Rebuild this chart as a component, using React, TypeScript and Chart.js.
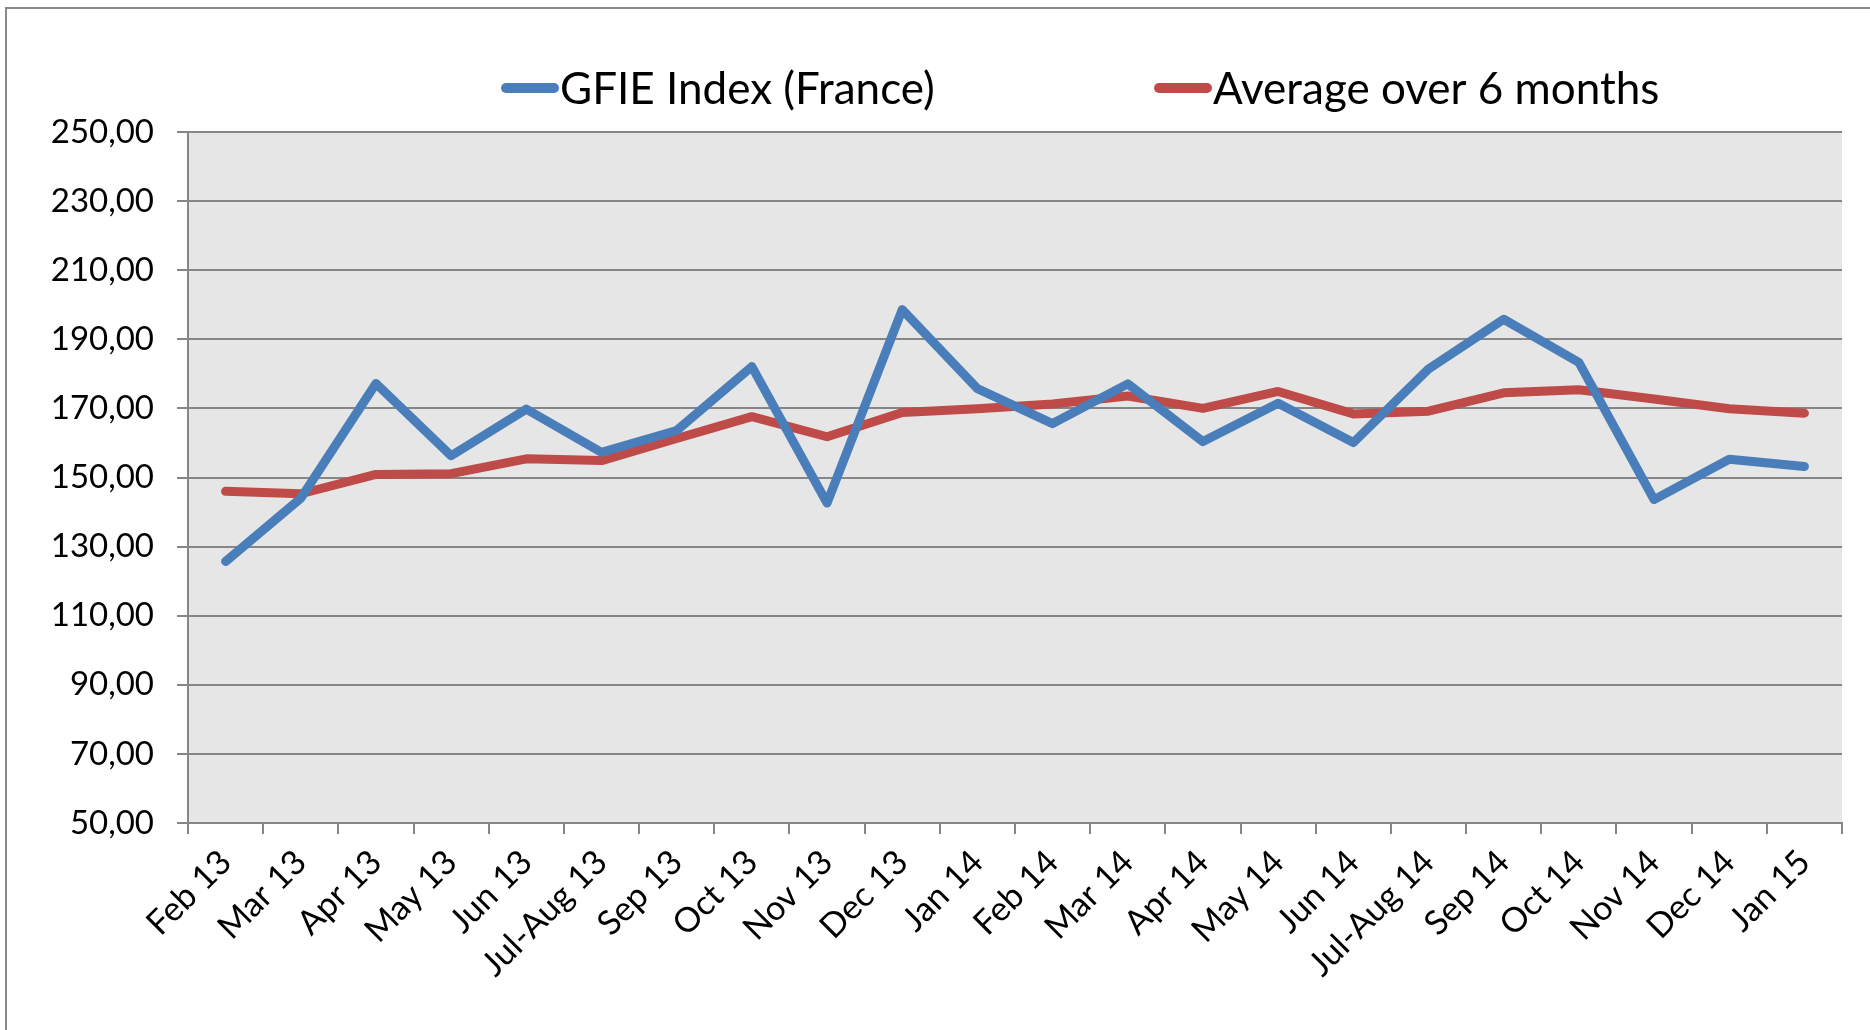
import { useEffect, useRef } from 'react';
import { Chart, registerables } from 'chart.js';

Chart.register(...registerables);

const categories = ['Feb 13', 'Mar 13', 'Apr 13', 'May 13', 'Jun 13', 'Jul-Aug 13', 'Sep 13', 'Oct 13', 'Nov 13', 'Dec 13', 'Jan 14', 'Feb 14', 'Mar 14', 'Apr 14', 'May 14', 'Jun 14', 'Jul-Aug 14', 'Sep 14', 'Oct 14', 'Nov 14', 'Dec 14', 'Jan 15'];
const gfieIndex = [125.7, 144.0, 177.2, 156.3, 169.8, 157.3, 163.6, 182.1, 142.6, 198.6, 175.7, 165.6, 177.1, 160.4, 171.5, 160.1, 181.4, 195.8, 183.3, 143.6, 155.3, 153.2];
const average6m = [146.0, 145.3, 150.9, 151.1, 155.4, 154.9, 161.3, 167.6, 161.8, 168.8, 169.9, 171.3, 173.6, 170.0, 174.9, 168.4, 169.2, 174.5, 175.4, 172.7, 169.9, 168.6];
const seriesNames = ['GFIE Index (France)', 'Average over 6 months'];
const yMin = 50;
const yMax = 250;
const yStep = 20;

const FONT = 'Lato, "Noto Sans", sans-serif';
const GRID = '#868686';
const LEGEND_X = [501, 1154];

const framePlugin = {
  id: 'frameAndBg',
  beforeDraw(chart: any) {
    const { ctx, chartArea } = chart;
    ctx.save();
    ctx.fillStyle = '#ffffff';
    ctx.fillRect(0, 0, chart.width, chart.height);
    ctx.strokeStyle = '#898989';
    ctx.lineWidth = 2;
    ctx.beginPath();
    ctx.moveTo(6, chart.height + 5);
    ctx.lineTo(6, 8);
    ctx.lineTo(chart.width + 5, 8);
    ctx.stroke();
    ctx.fillStyle = '#e6e6e6';
    ctx.fillRect(chartArea.left, chartArea.top, chartArea.right - chartArea.left, chartArea.bottom - chartArea.top);
    ctx.restore();
  },
};

const legendPlugin = {
  id: 'customLegend',
  afterDraw(chart: any) {
    const ctx = chart.ctx;
    chart.data.datasets.forEach((ds: any, i: number) => {
      const x0 = LEGEND_X[i];
      ctx.save();
      ctx.strokeStyle = ds.borderColor;
      ctx.lineWidth = 10;
      ctx.lineCap = 'round';
      ctx.beginPath();
      ctx.moveTo(x0 + 5, 88);
      ctx.lineTo(x0 + 53, 88);
      ctx.stroke();
      ctx.fillStyle = '#000000';
      ctx.font = `44px ${FONT}`;
      ctx.textBaseline = 'alphabetic';
      ctx.textAlign = 'left';
      ctx.fillText(ds.label, x0 + 59, 104);
      ctx.restore();
    });
  },
};

export default function App() {
  const ref = useRef<HTMLCanvasElement>(null);

  useEffect(() => {
    document.body.style.margin = '0';
    const chart = new Chart(ref.current as HTMLCanvasElement, {
      type: 'line',
      data: {
        labels: categories,
        datasets: [
          {
            label: seriesNames[0],
            data: gfieIndex,
            borderColor: '#4a7ebb',
            backgroundColor: '#4a7ebb',
            borderWidth: 9,
            pointRadius: 0,
            pointHoverRadius: 0,
            tension: 0,
            borderCapStyle: 'round',
            borderJoinStyle: 'round',
            fill: false,
          },
          {
            label: seriesNames[1],
            data: average6m,
            borderColor: '#be4b48',
            backgroundColor: '#be4b48',
            borderWidth: 9,
            pointRadius: 0,
            pointHoverRadius: 0,
            tension: 0,
            borderCapStyle: 'round',
            borderJoinStyle: 'round',
            fill: false,
          },
        ],
      },
      options: {
        responsive: false,
        animation: false,
        devicePixelRatio: 1,
        layout: { padding: { top: 132, right: 28, left: 0, bottom: 0 } },
        plugins: {
          legend: { display: false },
          tooltip: { enabled: false },
          title: { display: false },
        },
        scales: {
          x: {
            type: 'category',
            offset: true,
            grid: {
              offset: true,
              drawOnChartArea: false,
              drawTicks: true,
              tickLength: 11,
              color: GRID,
              lineWidth: 2,
            },
            border: { display: true, color: GRID, width: 2 },
            ticks: {
              autoSkip: false,
              minRotation: 45,
              maxRotation: 45,
              color: '#000000',
              padding: 8,
              font: { family: FONT, size: 34 },
            },
            afterFit: (scale: any) => {
              scale.height = 207;
            },
          },
          y: {
            min: yMin,
            max: yMax,
            grid: {
              drawTicks: true,
              tickLength: 11,
              color: GRID,
              lineWidth: 2,
            },
            border: { display: true, color: GRID, width: 2 },
            ticks: {
              stepSize: yStep,
              color: '#000000',
              padding: 23,
              font: { family: FONT, size: 33 },
              callback: (v: any) => Number(v).toFixed(2).replace('.', ','),
            },
            afterFit: (scale: any) => {
              scale.width = 188;
            },
          },
        },
      },
      plugins: [framePlugin, legendPlugin],
    } as any);
    return () => chart.destroy();
  }, []);

  return (
    <div style={{ position: 'fixed', left: 0, top: 0, width: 1870, height: 1030, background: '#ffffff' }}>
      <canvas ref={ref} width={1870} height={1030} style={{ display: 'block', width: 1870, height: 1030 }} />
    </div>
  );
}
